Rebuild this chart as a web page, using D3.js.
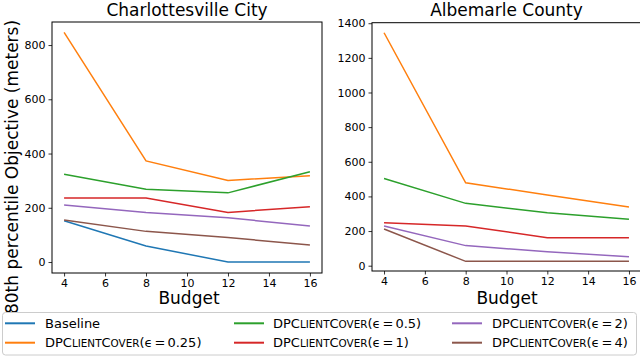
<!DOCTYPE html>
<html><head><meta charset="utf-8">
<script src="https://cdn.jsdelivr.net/npm/d3@7"></script>
<style>
body{margin:0;background:#fff;}
text{font-family:"DejaVu Sans",sans-serif;fill:#000;}
</style></head>
<body><svg id="c" width="640" height="357"></svg>
<script>
const budgets = [4, 8, 12, 16];
const xTicks = [4, 6, 8, 10, 12, 14, 16];
const seriesNames = ["Baseline", "0.25", "0.5", "1", "2", "4"];
const colors = ["#1f77b4", "#ff7f0e", "#2ca02c", "#d62728", "#9467bd", "#8c564b"];

// Charlottesville City
const cityBaseline = [152, 59, 0, 0];
const cityEps025 = [847, 373, 301, 318];
const cityEps05 = [324, 268, 255, 333];
const cityEps1 = [236, 236, 183, 204];
const cityEps2 = [210, 183, 163, 133];
const cityEps4 = [155, 113, 90, 63];
const cityYTicks = [0, 200, 400, 600, 800];

// Albemarle County (no baseline line visible)
const countyEps025 = [1345, 479, 408, 339];
const countyEps05 = [503, 360, 306, 268];
const countyEps1 = [248, 229, 162, 162];
const countyEps2 = [229, 116, 81, 52];
const countyEps4 = [212, 25, 25, 25];
const countyYTicks = [0, 200, 400, 600, 800, 1000, 1200, 1400];

const svg = d3.select("#c");

function panel(o) {
  const x = d3.scaleLinear().domain([3.41, 16.59]).range([o.left, o.right]);
  const y = d3.scaleLinear().domain(o.ydom).range([o.bottom, o.top]);
  const g = svg.append("g");
  const clipId = "clip" + o.id;
  svg.append("clipPath").attr("id", clipId).append("rect")
    .attr("x", o.left).attr("y", o.top).attr("width", o.right - o.left).attr("height", o.bottom - o.top);
  const line = d3.line().x((d, i) => x(budgets[i])).y(d => y(d));
  o.series.forEach(s => {
    if (!s.vals) return;
    g.append("path").attr("d", line(s.vals)).attr("fill", "none")
      .attr("stroke", s.color).attr("stroke-width", 1.5).attr("clip-path", `url(#${clipId})`);
  });
  const xa = g.append("g").attr("transform", `translate(0,${o.bottom})`)
    .call(d3.axisBottom(x).tickValues(xTicks).tickSize(3.5).tickPadding(3).tickFormat(d3.format("d")));
  const ya = g.append("g").attr("transform", `translate(${o.left},0)`)
    .call(d3.axisLeft(y).tickValues(o.yticks).tickSize(3.5).tickPadding(3).tickFormat(d3.format("d")));
  [xa, ya].forEach(a => {
    a.select(".domain").remove();
    a.selectAll("text").style("font-family", "DejaVu Sans").style("font-size", "11px").attr("fill", "#000");
    a.selectAll("line").attr("stroke", "#000").attr("stroke-width", 0.8);
  });
  g.append("rect").attr("x", o.left).attr("y", o.top).attr("width", o.right - o.left)
    .attr("height", o.bottom - o.top).attr("fill", "none").attr("stroke", "#000").attr("stroke-width", 1);
  g.append("text").attr("x", (o.left + o.right) / 2).attr("y", 15.5).attr("text-anchor", "middle")
    .style("font-size", "17px").text(o.title);
  g.append("text").attr("x", o.budgetX).attr("y", 303.5).attr("text-anchor", "middle")
    .style("font-size", "17px").text("Budget");
}

panel({id: 1, left: 52, right: 322, top: 22, bottom: 273, ydom: [-40.5, 885],
  yticks: cityYTicks, title: "Charlottesville City", budgetX: 189,
  series: [cityBaseline, cityEps025, cityEps05, cityEps1, cityEps2, cityEps4].map((v, i) => ({vals: v, color: colors[i]}))});

panel({id: 2, left: 372, right: 641, top: 22.7, bottom: 271, ydom: [-30.6, 1403],
  yticks: countyYTicks, title: "Albemarle County", budgetX: 507,
  series: [null, countyEps025, countyEps05, countyEps1, countyEps2, countyEps4].map((v, i) => ({vals: v, color: colors[i]}))});

svg.append("text").attr("transform", "translate(18,167) rotate(-90)").attr("text-anchor", "middle")
  .style("font-size", "17px").text("80th percentile Objective (meters)");

// Legend
const leg = svg.append("g");
leg.append("rect").attr("x", 2.5).attr("y", 312.5).attr("width", 634).attr("height", 42.5)
  .attr("rx", 3).attr("fill", "#fff").attr("stroke", "#ccc").attr("stroke-width", 1);
const legCols = [[5, 45], [234, 273], [452, 492]];
const legRows = [323.3, 342.7];
[0, 1, 2, 3, 4, 5].forEach((si, k) => {
  const col = Math.floor(k / 2), row = k % 2;
  const [lx, tx] = legCols[col];
  const yy = legRows[row];
  leg.append("line").attr("x1", lx).attr("x2", lx + 30).attr("y1", yy).attr("y2", yy)
    .attr("stroke", colors[si]).attr("stroke-width", 2);
  const t = leg.append("text").attr("x", tx).attr("y", yy + 4.7).style("font-size", "13px");
  if (si === 0) { t.text(seriesNames[0]); return; }
  t.append("tspan").text("DPC");
  t.append("tspan").style("font-size", "10.4px").text("LIENT");
  t.append("tspan").text("C");
  t.append("tspan").style("font-size", "10.4px").text("OVER");
  t.append("tspan").text("(ϵ");
  t.append("tspan").attr("dx", 2).text("=");
  t.append("tspan").attr("dx", 2).text(seriesNames[si] + ")");
});
</script></body></html>
